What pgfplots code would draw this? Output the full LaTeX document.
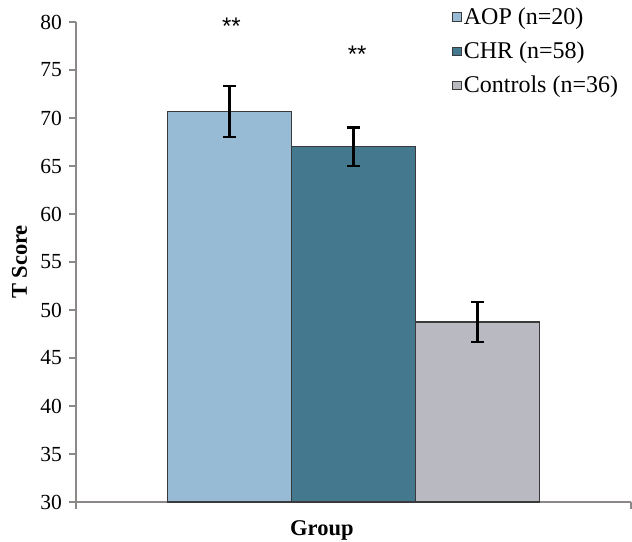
\documentclass[border=0pt]{standalone}
\usepackage{pgfplots}
\pgfplotsset{compat=1.18}
\usepackage{fontspec}
\setmainfont{Liberation Serif}
\newfontfamily\starfont{Liberation Sans}
\definecolor{aop}{HTML}{97BAD5}
\definecolor{chr}{HTML}{44788F}
\definecolor{ctl}{HTML}{B9B9C1}
\definecolor{edge}{HTML}{3A3A3A}
\definecolor{axgray}{HTML}{8C8888}
\begin{document}
\fontsize{21}{25}\selectfont
\begin{tikzpicture}
\begin{axis}[
  name=ax,
  scale only axis,
  width=555pt, height=480pt,
  xmin=-2.238, xmax=2.238,
  ymin=30, ymax=80,
  ytick={30,35,...,80},
  xtick={-2.238,2.238},
  xticklabels={},
  axis lines=left,
  axis line style={axgray, line width=1.3pt, -},
  tick style={axgray, line width=1.3pt},
  tick align=outside,
  major tick length=7pt,
  y tick label style={font=\fontsize{21.5}{25}\selectfont},
  /pgf/number format/assume math mode=true,
  ylabel={\textbf{T Score}},
  xlabel={\textbf{Group}},
  xlabel style={at={(rel axis cs:0.443,0)}, anchor=north, yshift=-11pt},
  ylabel style={yshift=-1pt},
  label style={font=\fontsize{22.5}{25}\selectfont},
  clip=false,
  legend style={at={(rel axis cs:0.678,1.035)}, anchor=north west, draw=none, fill=none,
    font=\fontsize{24}{28}\selectfont, row sep=10.5pt, inner sep=0pt},
  legend cell align=left,
  legend image code/.code={\draw[#1, line width=0.9pt] (0pt,-4pt) rectangle (8.5pt,4.5pt);},
  error bars/y dir=both, error bars/y explicit,
  error bars/error bar style={black, line width=2.2pt},
  error bars/error mark options={rotate=90, mark size=6.5pt, line width=2.2pt, black},
]
\addplot[ybar, bar width=1, bar shift=0pt, fill=aop, draw=edge, line width=1.2pt]
  coordinates {(-1,70.7) +- (0,2.65)};
\addlegendentry{AOP (n=20)}
\addplot[ybar, bar width=1, bar shift=0pt, fill=chr, draw=edge, line width=1.2pt]
  coordinates {(0,67.0) +- (0,2.0)};
\addlegendentry{CHR (n=58)}
\addplot[ybar, bar width=1, bar shift=0pt, fill=ctl, draw=edge, line width=1.2pt]
  coordinates {(1,48.75) +- (0,2.05)};
\addlegendentry{Controls (n=36)}
\node[font={\starfont\fontsize{24}{26}\selectfont}] at (axis cs:-0.985,79.55) {**};
\node[font={\starfont\fontsize{24}{26}\selectfont}] at (axis cs:0.03,76.65) {**};
\end{axis}
\pgfresetboundingbox
\path ([xshift=-76pt,yshift=-40pt]ax.south west) rectangle ([xshift=1pt,yshift=22pt]ax.north east);
\end{tikzpicture}
\end{document}
